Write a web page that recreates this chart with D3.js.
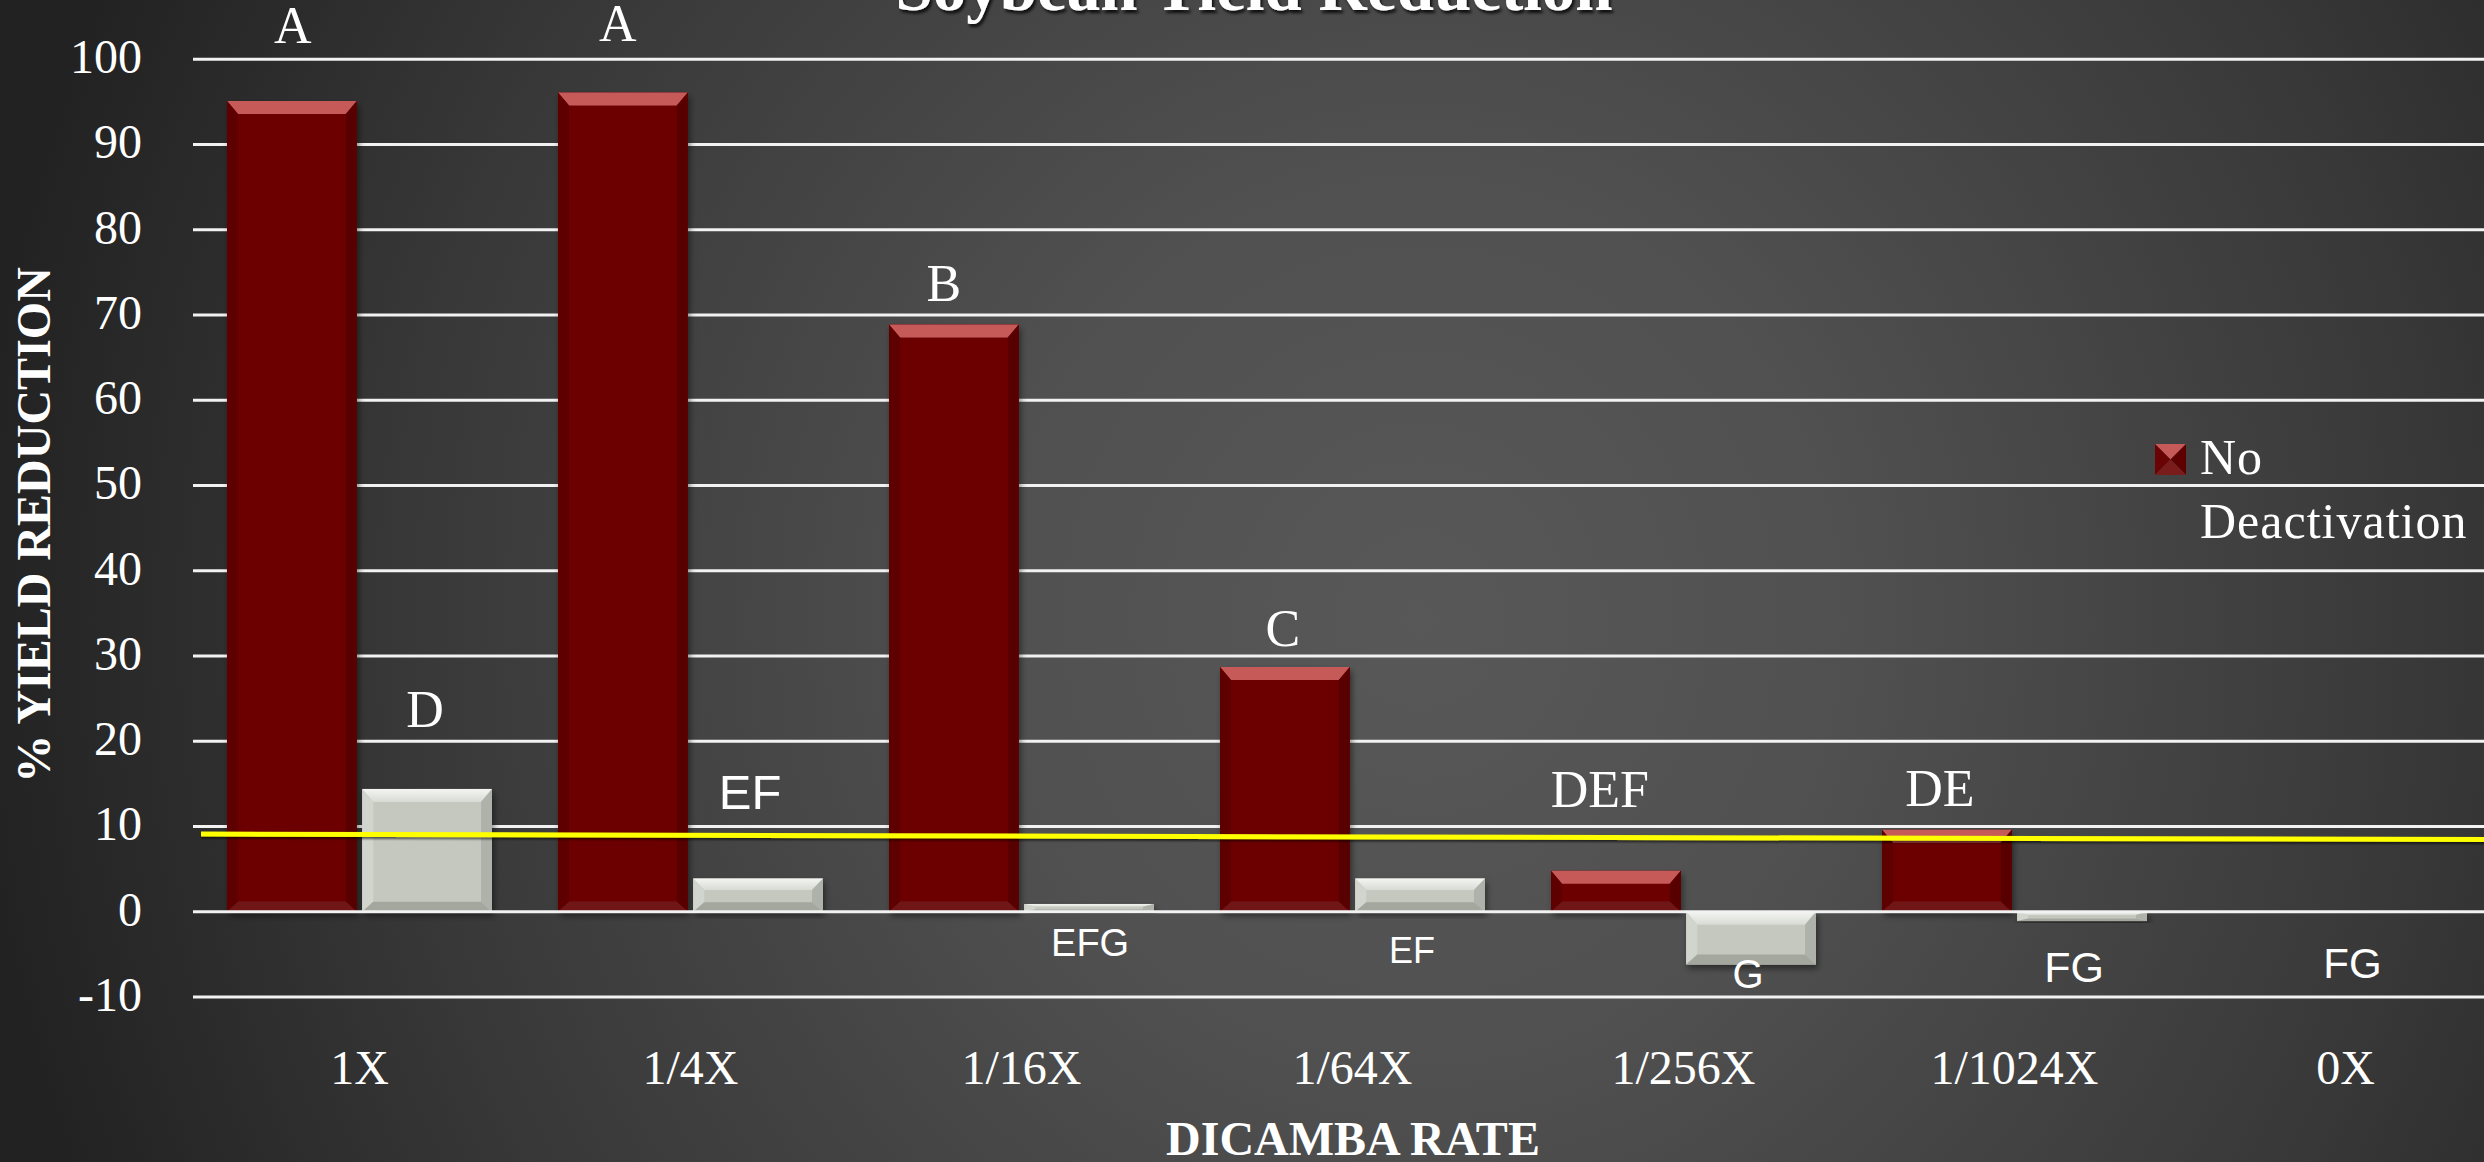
<!DOCTYPE html>
<html>
<head>
<meta charset="utf-8">
<script src="https://cdn.jsdelivr.net/npm/d3@7"></script>
<style>
  html, body { margin: 0; padding: 0; background: #2a2a2a; overflow: hidden; }
  svg { display: block; }
</style>
</head>
<body>
<svg id="chart" width="2484" height="1162"></svg>
<script>
// ---------------- DATA ----------------
const categories = ["1X", "1/4X", "1/16X", "1/64X", "1/256X", "1/1024X", "0X"];
const seriesNames = ["No Deactivation", "Deactivation"];
const noDeactivation = [95.1, 96.1, 68.9, 28.7, 4.8, 9.6, 0];
const deactivation = [14.4, 3.9, 0.9, 3.9, -6.2, -1.1, 0];
const yTicks = [-10, 0, 10, 20, 30, 40, 50, 60, 70, 80, 90, 100];
const lettersNo = ["A", "A", "B", "C", "DEF", "DE", ""];
const lettersDe = ["D", "EF", "EFG", "EF", "G", "FG", "FG"];
// baseline of each letter, in data units
const letterValueNo = [101.9, 102.1, 71.6, 31.2, 12.3, 12.4, null];
const letterValueDe = [21.7, 12.0, -5.2, -6.0, -9.0, -8.2, -7.8];
const referenceLine = [9.1, 8.45];   // yellow line, start / end values
const titleText = "Soybean Yield Reduction";
const xTitle = "DICAMBA RATE";
const yTitle = "% YIELD REDUCTION";

// annotation nudges (px) for the letters, relative to their bar centre
const letterNudgeNo = [1, -5, -10, -2, -16, -7, 0];
const letterNudgeDe = [-2, -8, 1, -8, -3, -8, 7];

// ---------------- SETUP ----------------
const W = 2484, H = 1162;
const svg = d3.select("#chart");
const defs = svg.append("defs");

const bg = defs.append("radialGradient").attr("id", "bg")
  .attr("gradientUnits", "userSpaceOnUse")
  .attr("cx", 1420).attr("cy", 620).attr("r", 1450)
  .attr("gradientTransform", "translate(1420,620) scale(1,1.05) translate(-1420,-620)");
bg.append("stop").attr("offset", 0).attr("stop-color", "#585858");
bg.append("stop").attr("offset", 0.3).attr("stop-color", "#505050");
bg.append("stop").attr("offset", 0.7).attr("stop-color", "#383838");
bg.append("stop").attr("offset", 1).attr("stop-color", "#222222");

const sh = defs.append("filter").attr("id", "barShadow")
  .attr("x", "-20%").attr("y", "-20%").attr("width", "140%").attr("height", "140%");
sh.append("feDropShadow").attr("dx", 2).attr("dy", 4).attr("stdDeviation", 3)
  .attr("flood-color", "#000").attr("flood-opacity", 0.45);

const tsh = defs.append("filter").attr("id", "textShadow")
  .attr("x", "-10%").attr("y", "-30%").attr("width", "120%").attr("height", "160%");
tsh.append("feDropShadow").attr("dx", 2).attr("dy", 3).attr("stdDeviation", 1.5)
  .attr("flood-color", "#000").attr("flood-opacity", 0.8);

const lsh = defs.append("filter").attr("id", "lineShadow")
  .attr("x", "-5%").attr("y", "-200%").attr("width", "110%").attr("height", "500%");
lsh.append("feDropShadow").attr("dx", 0).attr("dy", 2).attr("stdDeviation", 1.2)
  .attr("flood-color", "#000").attr("flood-opacity", 0.6);

const greyTop = defs.append("linearGradient").attr("id", "greyTop")
  .attr("x1", 0).attr("y1", 0).attr("x2", 0).attr("y2", 1);
greyTop.append("stop").attr("offset", 0).attr("stop-color", "#f4f5f2");
greyTop.append("stop").attr("offset", 1).attr("stop-color", "#d8dbd4");

svg.append("rect").attr("width", W).attr("height", H).attr("fill", "url(#bg)");

// scales
const x = d3.scaleBand().domain(categories).range([194, 2511]).paddingInner(0).paddingOuter(0);
const xInner = d3.scaleBand().domain(seriesNames).range([33, 298]).paddingInner(0.04);
const y = d3.scaleLinear().domain([-10, 100]).range([996.9, 59.3]);

const serif = "'Liberation Serif', 'Times New Roman', serif";
const sans = "'Liberation Sans', Arial, sans-serif";

// gridlines
svg.append("g").selectAll("line").data(yTicks.filter(d => d !== 0)).join("line")
  .attr("x1", 193).attr("x2", W)
  .attr("y1", d => y(d)).attr("y2", d => y(d))
  .attr("stroke", "#f2f2f2").attr("stroke-width", 3);

// y axis labels
const yAxis = svg.append("g").attr("transform", "translate(142,0)")
  .call(d3.axisLeft(y).tickValues(yTicks).tickSize(0).tickPadding(0).tickFormat(d => String(d)));
yAxis.select(".domain").remove();
yAxis.selectAll("text")
  .attr("fill", "#ffffff").attr("font-family", serif).attr("font-size", 48)
  .attr("dy", "0.32em").attr("y", -2);

// x axis labels
const xAxis = svg.append("g").attr("transform", "translate(0,1050)")
  .call(d3.axisBottom(x).tickSize(0).tickPadding(0));
xAxis.select(".domain").remove();
xAxis.selectAll("text")
  .attr("fill", "#ffffff").attr("font-family", serif).attr("font-size", 48)
  .attr("dy", "0.71em");

// bevelled bars
const palettes = {
  "No Deactivation": { face: "#6c0606", top: "#c55a58", left: "#5e0202", right: "#590000", bottom: "#6f1919" },
  "Deactivation":    { face: "#c4c8bf", top: "url(#greyTop)", left: "#d2d5ce", right: "#aeb2aa", bottom: "#a3a79e" }
};

function drawBar(g, x0, x1, v, pal) {
  const y0 = y(Math.max(v, 0)), y1 = y(Math.min(v, 0));
  const h = y1 - y0;
  if (h <= 0.5) return;
  const bt = Math.min(13, h * 0.35), bb = Math.min(10, h * 0.28), bs = Math.min(11, (x1 - x0) * 0.1);
  const grp = g.append("g").attr("filter", "url(#barShadow)");
  grp.append("rect").attr("x", x0).attr("y", y0).attr("width", x1 - x0).attr("height", h).attr("fill", pal.face);
  const poly = (pts, fill) => grp.append("polygon").attr("points", pts.map(p => p.join(",")).join(" ")).attr("fill", fill);
  poly([[x0, y0], [x1, y0], [x1 - bs, y0 + bt], [x0 + bs, y0 + bt]], pal.top);
  poly([[x0, y0], [x0 + bs, y0 + bt], [x0 + bs, y1 - bb], [x0, y1]], pal.left);
  poly([[x1, y0], [x1 - bs, y0 + bt], [x1 - bs, y1 - bb], [x1, y1]], pal.right);
  poly([[x0, y1], [x0 + bs, y1 - bb], [x1 - bs, y1 - bb], [x1, y1]], pal.bottom);
}

const barsG = svg.append("g");
const seriesValues = { "No Deactivation": noDeactivation, "Deactivation": deactivation };
categories.forEach((c, i) => {
  seriesNames.forEach(s => {
    const x0 = x(c) + xInner(s);
    drawBar(barsG, x0, x0 + xInner.bandwidth(), seriesValues[s][i], palettes[s]);
  });
});

// zero line on top
svg.append("line").attr("x1", 193).attr("x2", W).attr("y1", y(0)).attr("y2", y(0))
  .attr("stroke", "#f2f2f2").attr("stroke-width", 3);

// yellow reference line
svg.append("line")
  .attr("x1", x.range()[0] + 7).attr("x2", x.range()[1])
  .attr("y1", y(referenceLine[0])).attr("y2", y(referenceLine[1]))
  .attr("stroke", "#ffff00").attr("stroke-width", 5).attr("filter", "url(#lineShadow)");

// significance letters
const lettersG = svg.append("g").attr("fill", "#ffffff").attr("text-anchor", "middle");
categories.forEach((c, i) => {
  const cx = x(c) + xInner("No Deactivation") + xInner.bandwidth() / 2 + letterNudgeNo[i];
  if (lettersNo[i] && letterValueNo[i] !== null) {
    lettersG.append("text").attr("x", cx).attr("y", y(letterValueNo[i]))
      .attr("font-family", serif).attr("font-size", 52).text(lettersNo[i]);
  }
});
const deFont = [ [serif, 52], [sans, 49], [sans, 38], [sans, 36], [sans, 40], [sans, 43], [sans, 42] ];
categories.forEach((c, i) => {
  let cx = x(c) + xInner("Deactivation") + xInner.bandwidth() / 2;
  if (deactivation[i] === 0 && noDeactivation[i] === 0) cx = x(c) + x.bandwidth() / 2;
  lettersG.append("text").attr("x", cx + letterNudgeDe[i]).attr("y", y(letterValueDe[i]))
    .attr("font-family", deFont[i][0]).attr("font-size", deFont[i][1]).text(lettersDe[i]);
});

// legend
const lg = svg.append("g").attr("transform", "translate(2155,444)");
const m = 31;
lg.append("polygon").attr("points", `0,0 ${m},0 ${m/2},${m/2}`).attr("fill", "#c55a58");
lg.append("polygon").attr("points", `0,0 ${m/2},${m/2} 0,${m}`).attr("fill", "#6a0404");
lg.append("polygon").attr("points", `${m},0 ${m/2},${m/2} ${m},${m}`).attr("fill", "#5e0000");
lg.append("polygon").attr("points", `0,${m} ${m/2},${m/2} ${m},${m}`).attr("fill", "#7a1c1c");
const lgText = lg.append("text").attr("fill", "#ffffff").attr("font-family", serif)
  .attr("font-size", 50).attr("letter-spacing", 1);
lgText.append("tspan").attr("x", 45).attr("y", 30).text("No");
lgText.append("tspan").attr("x", 45).attr("y", 94).text("Deactivation");

// titles
svg.append("text").attr("x", 1254).attr("y", 10).attr("text-anchor", "middle")
  .attr("fill", "#ffffff").attr("font-family", serif).attr("font-weight", "bold")
  .attr("font-size", 67).attr("filter", "url(#textShadow)").text(titleText);

svg.append("text").attr("x", 1353).attr("y", 1155).attr("text-anchor", "middle")
  .attr("fill", "#ffffff").attr("font-family", serif).attr("font-weight", "bold")
  .attr("font-size", 48).text(xTitle);

svg.append("text").attr("transform", "translate(50,525) rotate(-90)").attr("text-anchor", "middle")
  .attr("fill", "#ffffff").attr("font-family", serif).attr("font-weight", "bold")
  .attr("font-size", 48).text(yTitle);
</script>
</body>
</html>
